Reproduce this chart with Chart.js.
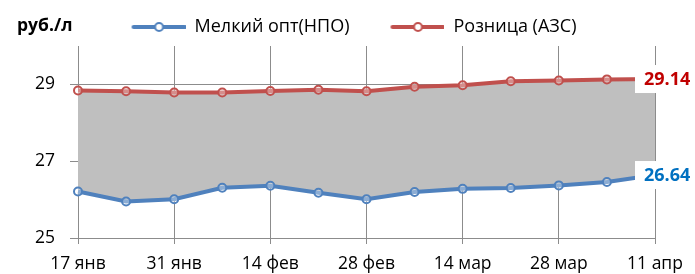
<!DOCTYPE html>
<html>
<head>
<meta charset="utf-8">
<script src="https://cdn.jsdelivr.net/npm/chart.js@4.4.0/dist/chart.umd.min.js"></script>
<style>
  html, body { margin: 0; padding: 0; background: #fff; }
  #wrap { width: 695px; height: 274px; position: relative; }
</style>
</head>
<body>
<div id="wrap"><canvas id="chart"></canvas></div>
<script>
const dates = ['17 янв', '24 янв', '31 янв', '7 фев', '14 фев', '21 фев', '28 фев',
               '7 мар', '14 мар', '21 мар', '28 мар', '4 апр', '11 апр'];
const wholesale = [26.21, 25.95, 26.01, 26.31, 26.36, 26.18, 26.01, 26.20, 26.28, 26.30, 26.37, 26.46, 26.64];
const retail = [28.84, 28.82, 28.79, 28.79, 28.83, 28.86, 28.82, 28.94, 28.98, 29.08, 29.10, 29.13, 29.14];
const yTicks = [25, 27, 29];
const seriesNames = ['Мелкий опт(НПО)', 'Розница (АЗС)'];

const font = "'Open Sans', 'Noto Sans', sans-serif";
const gridGray = '#8c8c8c';

function legendMarker(color){
    let c = document.createElement('canvas');
    c.width = 95;
    c.height = 14;
    let g = c.getContext('2d');
    g.strokeStyle = color;
    g.lineWidth = 4;
    g.lineCap = 'round';
    g.beginPath();
    g.moveTo(43, 7);
    g.lineTo(94, 7);
    g.stroke();
    g.beginPath();
    g.arc(68.5, 7, 4, 0, Math.PI * 2);
    g.fillStyle = '#fff';
    g.fill();
    g.lineWidth = 2;
    g.stroke();
    return c;
}

const endLabels = {
    id: 'endLabels',
    afterDatasetsDraw(chart){
        let ctx = chart.ctx;
        let xs = chart.scales.x;
        let ys = chart.scales.y;
        let colors = ['#0070C0', '#C00000'];
        ctx.save();
        chart.data.datasets.forEach((ds, i) => {
            let last = ds.data.length - 1;
            let px = xs.getPixelForValue(last);
            let py = ys.getPixelForValue(ds.data[last]);
            ctx.fillStyle = '#fff';
            ctx.fillRect(px - 20, py - 14, chart.width - px + 20, 28);
            ctx.font = 'bold 18px ' + font;
            ctx.fillStyle = colors[i];
            ctx.textAlign = 'left';
            ctx.textBaseline = 'middle';
            ctx.fillText(ds.data[last].toFixed(2), px - 11, py + 1);
        });
        ctx.restore();
    }
};

const unitLabel = {
    id: 'unitLabel',
    afterDraw(chart){
        let ctx = chart.ctx;
        ctx.save();
        ctx.font = 'bold 17.5px ' + font;
        ctx.fillStyle = '#000';
        ctx.textBaseline = 'middle';
        ctx.fillText('руб./л', 17, 26);
        ctx.restore();
    }
};

let chart = new Chart(document.getElementById('chart'), {
    type: 'line',
    data: {
        labels: dates,
        datasets: [
            {
                label: seriesNames[0],
                data: wholesale,
                borderColor: '#4F81BD',
                borderWidth: 4,
                pointRadius: 4,
                pointBorderWidth: 2,
                pointBackgroundColor: 'rgba(255,255,255,0.35)',
                pointBorderColor: '#4F81BD',
                fill: false,
                tension: 0
            },
            {
                label: seriesNames[1],
                data: retail,
                borderColor: '#C0504D',
                borderWidth: 4,
                pointRadius: 4,
                pointBorderWidth: 2,
                pointBackgroundColor: 'rgba(255,255,255,0.35)',
                pointBorderColor: '#C0504D',
                backgroundColor: '#BFBFBF',
                fill: '-1',
                tension: 0
            }
        ]
    },
    options: {
        responsive: true,
        maintainAspectRatio: false,
        animation: false,
        layout: { padding: { top: 18, left: 12, right: 40, bottom: 0 } },
        plugins: {
            legend: {
                position: 'top',
                labels: {
                    usePointStyle: true,
                    pointStyleWidth: 95,
                    padding: 0,
                    color: '#000',
                    font: { family: font, size: 18 },
                    generateLabels(chart){
                        return chart.data.datasets.map((ds, i) => ({
                            text: ds.label,
                            pointStyle: legendMarker(ds.borderColor),
                            fillStyle: ds.borderColor,
                            strokeStyle: ds.borderColor,
                            lineWidth: 0,
                            hidden: false,
                            datasetIndex: i
                        }));
                    }
                }
            },
            tooltip: { enabled: false }
        },
        scales: {
            x: {
                offset: false,
                afterFit: (scale) => { scale.height = 36; },
                border: { display: true, color: gridGray, width: 1 },
                grid: {
                    display: true,
                    drawOnChartArea: true,
                    drawTicks: true,
                    tickLength: 8,
                    color: (c) => c.index % 2 ? 'rgba(0,0,0,0)' : gridGray,
                    tickColor: (c) => c.index % 2 ? 'rgba(0,0,0,0)' : gridGray,
                    borderDash: [5, 3],
                    tickBorderDash: [5, 3]
                },
                ticks: {
                    autoSkip: false,
                    maxRotation: 0,
                    padding: 8,
                    color: '#000',
                    font: { family: font, size: 17.5 },
                    callback: (v, i) => i % 2 ? '' : dates[i]
                }
            },
            y: {
                min: 25,
                max: 30,
                afterBuildTicks: (scale) => { scale.ticks = yTicks.map(v => ({ value: v })); },
                afterFit: (scale) => { scale.width = 66; },
                border: { display: true, color: gridGray, width: 1 },
                grid: {
                    color: gridGray,
                    tickColor: gridGray,
                    tickLength: 8,
                    borderDash: [5, 3],
                    tickBorderDash: []
                },
                ticks: {
                    padding: 15,
                    color: '#000',
                    font: { family: font, size: 17.5 }
                }
            }
        }
    },
    plugins: [endLabels, unitLabel]
});
</script>
</body>
</html>
